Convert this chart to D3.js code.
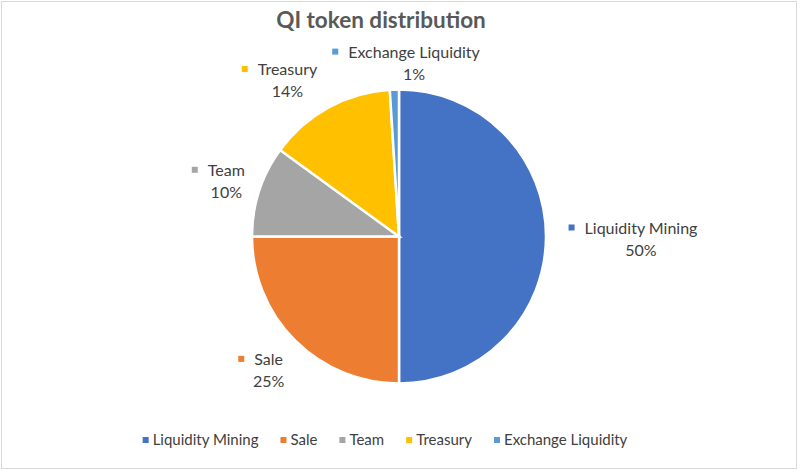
<!DOCTYPE html>
<html>
<head>
<meta charset="utf-8">
<script src="https://cdn.jsdelivr.net/npm/d3@7"></script>
<style>
  body { margin: 0; background: #fff; }
  svg text { font-family: Lato, "Open Sans", sans-serif; fill: #404040; }
</style>
</head>
<body>
<svg id="chart" width="800" height="472"></svg>
<script>
var categories = ["Liquidity Mining", "Sale", "Team", "Treasury", "Exchange Liquidity"];
var shares = [50, 25, 10, 14, 1];
var colors = ["#4472C4", "#ED7D31", "#A5A5A5", "#FFC000", "#5B9BD5"];
var title = "QI token distribution";

// label nudges (layout only), applied to a point on the label ring
var nudge = [[52, 2], [4, -1], [8, 3], [-20, 10], [21, 16]];

var width = 800, height = 472;
var cx = 399, cy = 236.5, r = 147, labelR = 190;

var svg = d3.select("#chart");

svg.append("rect")
    .attr("x", 1.5).attr("y", 1.5)
    .attr("width", 795).attr("height", 467)
    .attr("fill", "#fff")
    .attr("stroke", "#d9d9d9");

svg.append("text")
    .attr("x", 381).attr("y", 28)
    .attr("text-anchor", "middle")
    .attr("font-size", 22.5)
    .attr("font-weight", "bold")
    .style("fill", "#595959")
    .text(title);

var data = categories.map((c, i) => ({ name: c, value: shares[i], color: colors[i], i: i }));

var pie = d3.pie().sort(null).value(d => d.value);
var arc = d3.arc().innerRadius(0).outerRadius(r);
var arcs = pie(data);

var g = svg.append("g").attr("transform", `translate(${cx},${cy})`);

g.selectAll("path")
    .data(arcs)
    .join("path")
    .attr("d", arc)
    .attr("fill", d => d.data.color)
    .attr("stroke", "#fff")
    .attr("stroke-width", 2.5);

var total = d3.sum(shares);

var labels = g.selectAll("g.lbl")
    .data(arcs)
    .join("g")
    .attr("class", "lbl")
    .attr("transform", d => {
        var a = (d.startAngle + d.endAngle) / 2;
        var x = Math.sin(a) * labelR + nudge[d.index][0];
        var y = -Math.cos(a) * labelR + nudge[d.index][1];
        return `translate(${x},${y})`;
    });

labels.append("text")
    .attr("class", "name")
    .attr("text-anchor", "middle")
    .attr("y", -5)
    .attr("font-size", 16)
    .text(d => d.data.name);

labels.append("text")
    .attr("text-anchor", "middle")
    .attr("y", 17)
    .attr("font-size", 16)
    .text(d => Math.round(d.data.value / total * 100) + "%");

labels.each(function(d) {
    var t = d3.select(this).select("text.name");
    var w = t.node().getComputedTextLength();
    d3.select(this).append("rect")
        .attr("x", -w / 2 - 16).attr("y", -14)
        .attr("width", 6).attr("height", 6)
        .attr("fill", d.data.color);
});

// legend
var legend = svg.append("g");
var lx = 0;
data.forEach(d => {
    var it = legend.append("g");
    it.append("rect")
        .attr("x", 0).attr("y", -4)
        .attr("width", 6).attr("height", 6)
        .attr("fill", d.color);
    var t = it.append("text")
        .attr("x", 10).attr("y", 4)
        .attr("font-size", 15)
        .text(d.name);
    var w = t.node().getComputedTextLength();
    it.attr("transform", `translate(${lx},0)`);
    lx += 10 + w + 22;
});
lx -= 22;
legend.attr("transform", `translate(${385 - lx / 2},441)`);
</script>
</body>
</html>
